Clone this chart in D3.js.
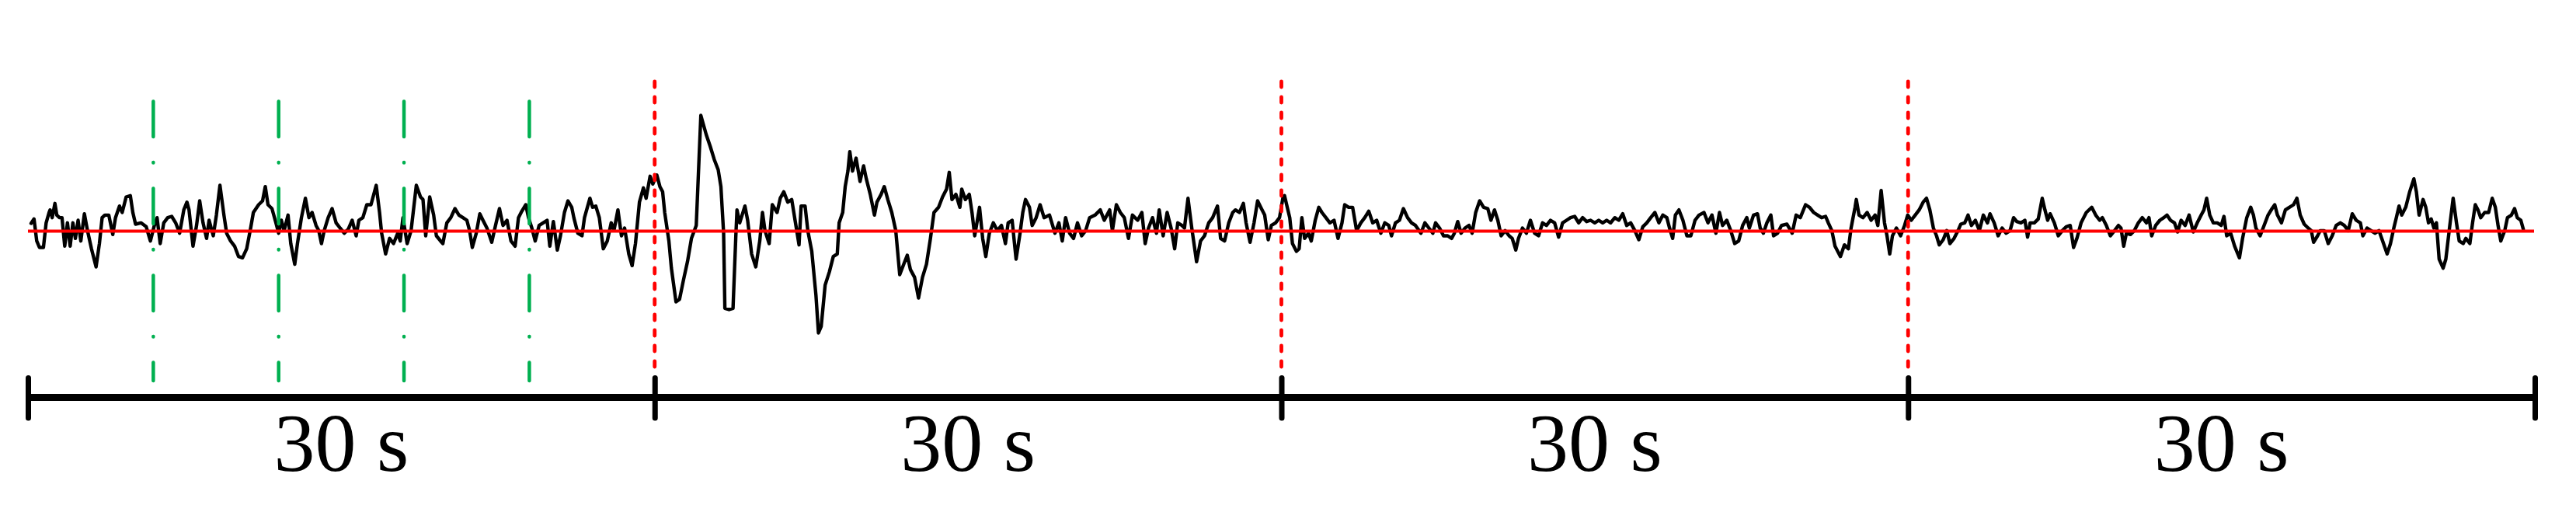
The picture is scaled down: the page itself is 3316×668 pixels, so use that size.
<!DOCTYPE html>
<html><head><meta charset="utf-8">
<script src="https://cdn.jsdelivr.net/npm/d3@7"></script>
<style>html,body{margin:0;padding:0;background:#fff;} svg{display:block;}</style>
</head><body>
<svg id="chart" width="3316" height="668"></svg>
<script>
// ---- data ----
const epochEdges = [0, 30, 60, 90, 120];           // seconds
const epochLabels = ["30 s", "30 s", "30 s", "30 s"];
const epochMarkers = [30, 60, 90];                 // red dashed boundaries
const subMarkers = [6, 12, 18, 24];                // green dash-dot marks
// signal: [time (s), amplitude (a.u.)]
const epoch1 = [
[0.15,30],[0.29,47],[0.42,-38],[0.55,-63],[0.74,-63],[0.87,32],[1.01,72],[1.06,82],[1.16,52],[1.29,107],[1.38,62],[1.51,52],[1.63,52],[1.76,-58],[1.89,32],[2.02,-58],[2.15,32],[2.27,-28],[2.40,42],[2.53,-38],[2.70,67],[2.85,2],[3.04,-68],[3.26,-138],[3.42,-48],[3.55,52],[3.68,62],[3.87,62],[4.06,-13],[4.19,52],[4.38,97],[4.51,72],[4.70,132],[4.90,137],[5.02,72],[5.15,27],[5.41,32],[5.66,17],[5.86,-38],[6.05,22],[6.18,52],[6.33,-48],[6.50,32],[6.69,52],[6.88,57],[7.07,32],[7.26,-8],[7.46,82],[7.61,112],[7.71,82],[7.90,-58],[8.07,22],[8.22,117],[8.38,32],[8.55,-28],[8.67,42],[8.87,-18],[9.02,62],[9.19,177],[9.38,62],[9.51,-8],[9.70,-38],[9.89,-58],[10.08,-98],[10.27,-103],[10.47,-68],[10.66,12],[10.79,72],[11.04,102],[11.23,117],[11.36,172],[11.49,102],[11.68,87],[11.87,32],[12.00,-8],[12.13,42],[12.26,2],[12.45,62],[12.58,-48],[12.77,-128],[12.90,-48],[13.09,52],[13.28,127],[13.45,52],[13.60,72],[13.79,22],[13.92,2],[14.05,-48],[14.18,2],[14.37,52],[14.56,87],[14.75,32],[14.94,12],[15.14,-8],[15.33,7],[15.52,42],[15.71,-18],[15.84,42],[16.03,52],[16.22,102],[16.42,102],[16.67,177],[16.83,72],[16.93,-8],[17.12,-88],[17.31,-28],[17.50,-48],[17.70,-8],[17.82,-38],[17.95,52],[18.15,-48],[18.34,2],[18.59,177],[18.79,132],[18.91,122],[19.04,-18],[19.23,132],[19.42,62],[19.55,-18],[19.75,-38],
[19.86,-48],[20.05,32],[20.24,52],[20.44,87],[20.63,62],[20.82,52],[21.01,42],[21.14,2],[21.27,-63],[21.46,-8],[21.63,67],[21.78,42],[21.97,12],[22.20,-43],[22.38,22],[22.57,87],[22.74,22],[22.93,42],[23.12,-38],[23.32,-58],[23.48,52],[23.64,77],[23.83,102],[23.96,52],[24.12,12],[24.28,-38],[24.47,22],[24.66,32],[24.85,42],[24.98,-58],[25.15,37],[25.34,-73],[25.49,-18],[25.68,72],[25.85,117],[26.03,92],[26.13,52],[26.32,-8],[26.52,-18],[26.64,52],[26.90,127],[27.03,92],[27.18,97],[27.35,52],[27.54,-68],[27.73,-38],[27.92,32],[28.05,2],[28.24,82],[28.41,-18],[28.56,12],[28.76,-88],[28.92,-133],[29.08,-48],[29.27,112],[29.46,167],[29.59,127],[29.78,212],[29.91,182]
];
const epoch2 = [
[30.10,217],[30.25,172],[30.38,152],[30.48,72],[30.68,-38],[30.80,-143],[31.02,-273],[31.19,-263],[31.38,-188],[31.57,-118],[31.76,-28],[31.99,22],[32.21,447],[32.47,372],[32.66,327],[32.85,277],[33.04,237],[33.17,172],[33.30,-8],[33.36,-298],[33.56,-303],[33.75,-298],[33.88,-28],[33.94,82],[34.07,32],[34.32,97],[34.45,42],[34.64,-88],[34.84,-138],[35.03,-38],[35.16,72],[35.28,2],[35.48,-48],[35.63,102],[35.86,72],[36.01,127],[36.18,152],[36.37,112],[36.56,122],[36.76,22],[36.91,-53],[37.01,97],[37.20,97],[37.33,2],[37.52,-78],[37.72,-248],[37.84,-393],[37.97,-368],[38.16,-208],[38.36,-158],[38.55,-98],[38.74,-88],[38.83,32],[39.00,72],[39.12,172],[39.25,232],[39.34,307],[39.47,232],[39.64,282],[39.83,192],
[40.00,252],[40.13,202],[40.32,142],[40.52,62],[40.64,112],[40.84,142],[40.99,172],[41.16,122],[41.35,72],[41.54,2],[41.73,-168],[41.92,-128],[42.09,-93],[42.24,-148],[42.44,-178],[42.63,-258],[42.82,-178],[43.01,-128],[43.20,-28],[43.37,72],[43.59,92],[43.78,132],[43.97,162],[44.10,227],[44.23,122],[44.42,142],[44.61,92],[44.70,162],[44.87,122],[45.06,142],[45.19,72],[45.32,-18],[45.55,92],[45.70,-28],[45.85,-98],[46.02,-8],[46.21,32],[46.40,2],[46.60,22],[46.79,-48],[46.92,32],[47.11,42],[47.30,-108],[47.49,-8],[47.62,72],[47.75,122],[47.94,92],[48.07,22],[48.26,52],[48.45,102],[48.64,52],[48.90,62],[49.16,-8],[49.35,32],[49.51,-38],[49.67,52],[49.86,-8],[50.05,-28],[50.24,32],[50.44,-18],[50.63,2],[50.82,52],[51.08,62],[51.33,82],[51.52,42],[51.78,82],[51.91,2],[52.10,102],[52.29,72],[52.48,52],[52.68,-28],[52.87,62],[53.12,42],[53.32,72],[53.48,-48],[53.64,12],[53.83,52],[54.02,-8],[54.15,82],[54.34,-18],[54.53,72],[54.72,12],[54.89,-68],[55.04,32],[55.24,22],[55.36,12],[55.53,127],[55.71,12],[55.94,-118],[56.13,-38],[56.32,-18],[56.52,32],[56.71,52],[56.94,97],[57.09,-28],[57.28,-38],[57.48,32],[57.67,72],[57.80,82],[57.99,72],[58.18,107],[58.31,32],[58.50,-43],[58.69,32],[58.86,117],[59.01,92],[59.20,62],[59.37,-33],[59.52,22],[59.72,32],[59.91,52]
];
const epoch3 = [
[60.08,132],[60.15,137],[60.28,92],[60.40,52],[60.53,-48],[60.72,-78],[60.85,-68],[60.98,52],[61.11,-28],[61.30,-8],[61.43,-38],[61.62,42],[61.79,92],[61.94,72],[62.13,52],[62.32,32],[62.52,42],[62.71,-28],[62.90,32],[63.03,102],[63.22,92],[63.41,92],[63.60,2],[63.80,32],[63.99,52],[64.18,77],[64.37,32],[64.56,42],[64.76,-8],[64.95,32],[65.14,22],[65.27,-18],[65.46,32],[65.65,42],[65.84,87],[66.04,52],[66.23,32],[66.42,22],[66.68,-8],[66.87,32],[67.06,12],[67.25,-8],[67.38,32],[67.57,12],[67.76,-18],[67.96,-18],[68.15,-28],[68.28,-8],[68.44,37],[68.60,-8],[68.79,12],[68.98,22],[69.13,-8],[69.30,72],[69.49,117],[69.68,92],[69.88,87],[70.03,42],[70.20,82],[70.36,42],[70.52,-18],[70.71,2],[70.90,-18],[71.05,-28],[71.22,-73],[71.35,-28],[71.54,12],[71.73,-8],[71.92,42],[72.12,-8],[72.31,-18],[72.50,32],[72.69,22],[72.88,42],[73.08,32],[73.27,-23],[73.46,32],[73.65,42],[73.84,52],[74.04,57],[74.23,32],[74.42,52],[74.61,37],[74.80,42],[75.00,32],[75.19,42],[75.38,32],[75.57,42],[75.76,32],[75.96,52],[76.15,42],[76.34,67],[76.53,22],[76.72,32],[76.92,2],[77.11,-33],[77.30,17],[77.49,32],[77.68,52],[77.88,72],[78.07,32],[78.26,62],[78.45,52],[78.58,12],[78.73,-28],[78.86,62],[79.03,82],[79.22,42],[79.41,-18],[79.60,-18],[79.80,42],[79.99,62],
[80.23,72],[80.42,32],[80.61,62],[80.80,-8],[80.97,72],[81.12,22],[81.32,42],[81.51,2],[81.70,-48],[81.89,-38],[82.08,22],[82.28,52],[82.40,12],[82.60,62],[82.79,67],[82.92,12],[83.07,-8],[83.24,32],[83.43,62],[83.56,-18],[83.75,-8],[83.94,22],[84.20,27],[84.45,-8],[84.64,62],[84.84,52],[85.09,102],[85.28,92],[85.48,72],[85.67,62],[85.86,52],[86.05,57],[86.18,32],[86.35,2],[86.50,-58],[86.76,-98],[86.95,-53],[87.14,-68],[87.27,12],[87.46,92],[87.52,122],[87.65,62],[87.84,52],[88.04,72],[88.23,42],[88.42,62],[88.55,22],[88.71,157],[88.87,32],[88.99,-18],[89.12,-88],[89.25,-18],[89.44,12],[89.64,-18],[89.83,22]
];
const epoch4 = [
[89.98,62],[90.15,42],[90.34,62],[90.53,82],[90.72,112],[90.88,127],[91.04,82],[91.21,12],[91.36,-18],[91.49,-53],[91.68,-33],[91.85,2],[92.00,-48],[92.20,-28],[92.39,2],[92.52,27],[92.71,32],[92.87,62],[93.03,22],[93.22,42],[93.41,2],[93.60,62],[93.80,32],[93.92,67],[94.12,32],[94.31,-18],[94.50,12],[94.69,-8],[94.88,2],[95.05,52],[95.20,37],[95.40,32],[95.59,42],[95.72,-23],[95.84,32],[96.04,32],[96.23,47],[96.42,127],[96.55,82],[96.68,42],[96.80,67],[97.00,32],[97.19,-18],[97.38,2],[97.57,17],[97.76,22],[97.92,-63],[98.08,-28],[98.28,32],[98.53,72],[98.79,92],[98.98,62],[99.17,42],[99.30,52],[99.49,22],[99.68,-18],[99.88,2],[100.07,22],
[100.19,12],[100.32,-58],[100.45,-8],[100.64,-13],[100.83,2],[101.02,32],[101.21,52],[101.41,32],[101.53,52],[101.66,-18],[101.85,22],[102.05,42],[102.24,52],[102.39,62],[102.56,42],[102.75,32],[102.90,-3],[103.07,42],[103.26,22],[103.45,62],[103.65,-3],[103.84,32],[104.03,62],[104.16,82],[104.29,127],[104.44,62],[104.61,32],[104.80,32],[104.99,22],[105.12,57],[105.25,-18],[105.44,-8],[105.63,-58],[105.86,-103],[106.01,-28],[106.21,52],[106.40,92],[106.53,62],[106.65,12],[106.85,-18],[107.04,22],[107.23,62],[107.42,87],[107.55,102],[107.68,62],[107.87,32],[108.06,82],[108.25,92],[108.45,102],[108.61,127],[108.77,62],[108.96,27],[109.15,12],[109.30,2],[109.41,-43],[109.60,-18],[109.73,2],[109.92,2],[110.11,-48],[110.30,-18],[110.49,22],[110.69,32],[110.88,22],[111.07,2],[111.26,67],[111.45,42],[111.65,32],[111.77,-18],[111.97,12],[112.16,2],[112.35,-8],[112.54,2],[112.67,-28],[112.80,-58],[112.93,-88],[113.09,-48],[113.25,12],[113.37,52],[113.50,97],[113.63,62],[113.82,92],[114.01,152],[114.21,202],[114.33,152],[114.46,62],[114.65,122],[114.78,92],[114.91,32],[115.04,47],[115.17,12],[115.29,32],[115.42,-108],[115.61,-143],[115.74,-108],[115.93,22],[116.09,127],[116.25,32],[116.38,-38],[116.57,-48],[116.70,-28],[116.89,-48],[117.02,32],[117.15,102],[117.28,82],[117.41,52],[117.60,72],[117.79,72],[117.96,127],[118.11,92],[118.24,22],[118.37,-38],[118.56,2],[118.69,52],[118.88,62],[119.03,87],[119.16,52],[119.33,42],[119.45,7]
];

// ---- chart ----
const svg = d3.select("#chart");
svg.append("rect").attr("width",3316).attr("height",668).attr("fill","#fff");
const x = d3.scaleLinear().domain([0,120]).range([36,3263]);
const y = d3.scaleLinear().domain([-600,600]).range([497.5,97.5]);

const signal = epoch1.concat(epoch2, epoch3, epoch4);
svg.append("path").datum(signal)
  .attr("d", d3.line().x(d=>x(d[0])).y(d=>y(d[1])))
  .attr("fill","none").attr("stroke","#000").attr("stroke-width",4.4)
  .attr("stroke-linejoin","round").attr("stroke-linecap","round");

// zero baseline
svg.append("line").attr("x1",x(0)).attr("x2",x(120)-1).attr("y1",y(0)).attr("y2",y(0))
  .attr("stroke","#ff0000").attr("stroke-width",3.8);

// green dash-dot sub markers
svg.selectAll("line.sub").data(subMarkers).join("line").attr("class","sub")
  .attr("x1",d=>x(d)).attr("x2",d=>x(d)).attr("y1",130.5).attr("y2",490)
  .attr("stroke","#00b050").attr("stroke-width",4.5).attr("stroke-linecap","round")
  .attr("stroke-dasharray","45.5,33,0.5,33");

// red dashed epoch markers
svg.selectAll("line.ep").data(epochMarkers).join("line").attr("class","ep")
  .attr("x1",d=>x(d)).attr("x2",d=>x(d)).attr("y1",105).attr("y2",484)
  .attr("stroke","#ff0000").attr("stroke-width",4.8).attr("stroke-linecap","round")
  .attr("stroke-dasharray","7,13");

// time axis
const axis = d3.axisBottom(x).tickValues(epochEdges).tickSize(0).tickSizeOuter(0).tickFormat("");
const gAxis = svg.append("g").attr("transform","translate(0,511)").call(axis);
gAxis.select(".domain").attr("stroke","#000").attr("stroke-width",9);
gAxis.selectAll(".tick line").attr("y1",-24.5).attr("y2",27)
  .attr("stroke","#000").attr("stroke-width",7).attr("stroke-linecap","round");

// epoch labels
svg.selectAll("text.lab").data(epochLabels).join("text").attr("class","lab")
  .attr("x",(d,i)=>x((epochEdges[i]+epochEdges[i+1])/2)).attr("y",606)
  .attr("text-anchor","middle")
  .attr("font-family","'Liberation Serif','Times New Roman',serif")
  .attr("font-size",106).attr("fill","#000").text(d=>d);
</script>
</body></html>
